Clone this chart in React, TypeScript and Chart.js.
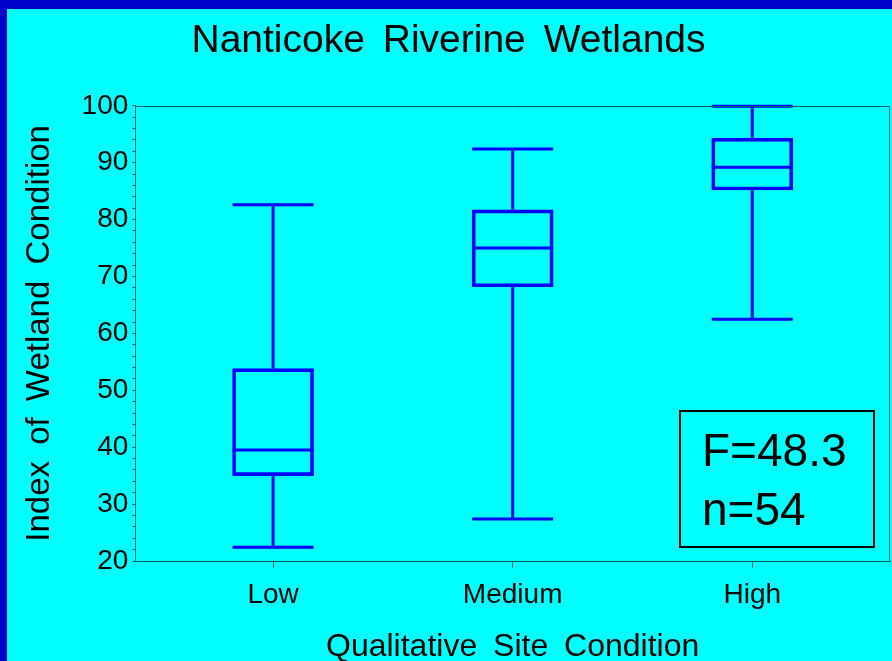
import React, { useEffect, useRef } from 'react';
import { Chart, registerables } from 'chart.js';

Chart.register(...registerables);

// ---- data ----
const categories = ['Low', 'Medium', 'High'];
const whiskerLow = [22.4, 27.4, 62.5];
const quartile1 = [35.0, 68.2, 85.2];
const medians = [39.5, 75.0, 89.2];
const quartile3 = [53.8, 81.7, 94.3];
const whiskerHigh = [82.6, 92.4, 99.9];
const yTickLabels = [20, 30, 40, 50, 60, 70, 80, 90, 100];
const statsLines = ['F=48.3', 'n=54'];
const chartTitle = 'Nanticoke Riverine Wetlands';
const xTitle = 'Qualitative Site Condition';
const yTitle = 'Index of Wetland Condition';

// ---- styles ----
const FONT = "'Liberation Sans', Arial, Helvetica, sans-serif";
const BOX_COLOR = '#0000FF';
const AXIS_COLOR = '#006060';
const BG = '#00FFFF';
const FRAME_BLUE = '#0000CC';

const boxPlugin = {
  id: 'boxWhiskers',
  beforeDraw(chart: any) {
    (chart.ctx as any).wordSpacing = '7px';
  },
  afterDatasetsDraw(chart: any) {
    const { ctx, scales } = chart;
    const x = scales.x;
    const y = scales.y;
    const meta = chart.getDatasetMeta(0);
    ctx.save();
    ctx.strokeStyle = BOX_COLOR;
    ctx.lineWidth = 3;
    ctx.lineCap = 'butt';
    categories.forEach((_, i) => {
      const bar = meta.data[i];
      const cx = x.getPixelForValue(i + 1);
      const half = bar.width / 2;
      const pLow = y.getPixelForValue(whiskerLow[i]);
      const pQ1 = y.getPixelForValue(quartile1[i]);
      const pMed = y.getPixelForValue(medians[i]);
      const pQ3 = y.getPixelForValue(quartile3[i]);
      const pHigh = y.getPixelForValue(whiskerHigh[i]);
      ctx.beginPath();
      ctx.moveTo(cx, pQ3);
      ctx.lineTo(cx, pHigh);
      ctx.moveTo(cx - half, pHigh);
      ctx.lineTo(cx + half, pHigh);
      ctx.moveTo(cx, pQ1);
      ctx.lineTo(cx, pLow);
      ctx.moveTo(cx - half, pLow);
      ctx.lineTo(cx + half, pLow);
      ctx.moveTo(cx - half, pMed);
      ctx.lineTo(cx + half, pMed);
      ctx.stroke();
    });
    ctx.restore();
  },
  afterDraw(chart: any) {
    const { ctx, chartArea } = chart;
    ctx.save();
    // plot frame (top & right)
    ctx.strokeStyle = AXIS_COLOR;
    ctx.lineWidth = 1;
    const t = Math.round(chartArea.top) + 0.5;
    const r = Math.round(chartArea.right) - 0.5;
    ctx.beginPath();
    ctx.moveTo(chartArea.left, t);
    ctx.lineTo(r, t);
    ctx.lineTo(r, chartArea.bottom);
    ctx.stroke();
    // stats box
    const w = 194;
    const h = 136;
    const bx = Math.round(chartArea.right - 17 - w);
    const by = Math.round(chartArea.bottom - 15 - h);
    ctx.strokeStyle = '#000000';
    ctx.lineWidth = 2;
    ctx.strokeRect(bx + 1, by + 1, w, h);
    ctx.fillStyle = '#000000';
    ctx.font = `46px ${FONT}`;
    ctx.textAlign = 'left';
    ctx.textBaseline = 'alphabetic';
    statsLines.forEach((line, i) => {
      ctx.fillText(line, bx + 23, by + 56 + i * 59);
    });
    ctx.restore();
  },
};

export default function App() {
  const canvasRef = useRef<HTMLCanvasElement | null>(null);

  useEffect(() => {
    const canvas = canvasRef.current;
    if (!canvas) return;
    const chart = new Chart(canvas, {
      type: 'bar',
      data: {
        datasets: [
          {
            data: categories.map((_, i) => ({ x: i + 1, y: [quartile1[i], quartile3[i]] })) as any,
            backgroundColor: 'rgba(0,0,0,0)',
            borderColor: BOX_COLOR,
            borderWidth: 3,
            borderSkipped: false,
            barThickness: 81,
          },
        ],
      },
      options: {
        responsive: false,
        animation: false,
        devicePixelRatio: 1,
        layout: { padding: { left: 0, right: 2, top: 0, bottom: 0 } },
        plugins: {
          legend: { display: false },
          tooltip: { enabled: false },
          title: {
            display: true,
            text: chartTitle,
            color: '#000000',
            font: { family: FONT, size: 39, weight: 'normal' },
            padding: { top: 9, bottom: 41 },
          },
        },
        scales: {
          x: {
            type: 'linear',
            min: 0.425,
            max: 3.575,
            offset: false,
            afterBuildTicks: (scale: any) => {
              scale.ticks = categories.map((_, i) => ({ value: i + 1 }));
            },
            ticks: {
              color: '#000000',
              font: { family: FONT, size: 28 },
              padding: 10,
              maxRotation: 0,
              autoSkip: false,
              callback: (v: any) => categories[Number(v) - 1] ?? '',
            },
            grid: {
              display: true,
              drawOnChartArea: false,
              drawTicks: true,
              tickLength: 7,
              color: AXIS_COLOR,
              offset: false,
            },
            border: { display: true, color: AXIS_COLOR, width: 1 },
            title: {
              display: true,
              text: xTitle,
              color: '#000000',
              font: { family: FONT, size: 32 },
              padding: { top: 6, bottom: -5 },
            },
          },
          y: {
            type: 'linear',
            min: 20,
            max: 100,
            ticks: {
              stepSize: 2,
              autoSkip: false,
              color: '#000000',
              font: { family: FONT, size: 28 },
              padding: 4,
              callback: (v: any) => (yTickLabels.includes(Number(v)) ? String(v) : ''),
            },
            grid: {
              display: true,
              drawOnChartArea: false,
              drawTicks: true,
              tickLength: 3,
              color: AXIS_COLOR,
            },
            border: { display: true, color: AXIS_COLOR, width: 1 },
            title: {
              display: true,
              text: yTitle,
              color: '#000000',
              font: { family: FONT, size: 33 },
              padding: { top: 13, bottom: 18 },
            },
          },
        },
      } as any,
      plugins: [boxPlugin],
    });
    return () => chart.destroy();
  }, []);

  return (
    <div
      style={{
        position: 'fixed',
        left: 0,
        top: 0,
        width: 892,
        height: 661,
        boxSizing: 'border-box',
        borderTop: `9px solid ${FRAME_BLUE}`,
        borderLeft: `7px solid ${FRAME_BLUE}`,
        background: BG,
        overflow: 'hidden',
      }}
    >
      <canvas ref={canvasRef} width={885} height={652} style={{ display: 'block', width: 885, height: 652 }} />
    </div>
  );
}
